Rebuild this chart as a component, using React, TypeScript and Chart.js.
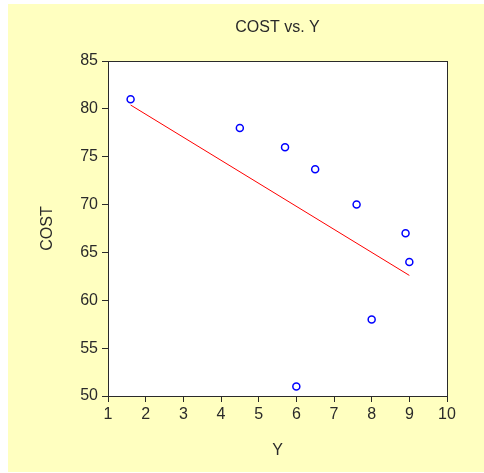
import React, { useEffect, useRef } from "react";
import { Chart, registerables } from "chart.js";

Chart.register(...registerables);

const yValues = [1.6, 4.5, 5.7, 6.5, 7.6, 8.9, 9.0, 8.0, 6.0];
const costValues = [81, 78, 76, 73.7, 70, 67, 64, 58, 51];
const fitX = [1.6, 9.0];
const fitCost = [80.4, 62.6];
const xTicks = [1, 2, 3, 4, 5, 6, 7, 8, 9, 10];
const yTicks = [50, 55, 60, 65, 70, 75, 80, 85];
const chartTitle = "COST vs. Y";

const FONT = "'Liberation Sans', Arial, sans-serif";
const INK = "#2a2a2a";

const frame = {
  id: "frame",
  beforeDatasetsDraw(chart: any) {
    const { ctx, chartArea: a } = chart;
    ctx.save();
    ctx.fillStyle = "#ffffff";
    ctx.fillRect(a.left, a.top, a.right - a.left, a.bottom - a.top);
    ctx.restore();
  },
  afterDraw(chart: any) {
    const { ctx, chartArea: a } = chart;
    ctx.save();
    ctx.strokeStyle = INK;
    ctx.lineWidth = 1;
    ctx.strokeRect(Math.round(a.left) + 0.5, Math.round(a.top) + 0.5, Math.round(a.right - a.left), Math.round(a.bottom - a.top));
    ctx.fillStyle = INK;
    ctx.font = `16px ${FONT}`;
    ctx.textAlign = "center";
    ctx.textBaseline = "middle";
    ctx.fillText(chartTitle, (a.left + a.right) / 2, 24);
    ctx.restore();
  },
};

export default function App() {
  const ref = useRef<HTMLCanvasElement>(null);
  useEffect(() => {
    if (!ref.current) return;
    const chart = new Chart(ref.current, {
      type: "scatter",
      data: {
        datasets: [
          {
            type: "line",
            data: fitX.map((x, i) => ({ x, y: fitCost[i] })),
            borderColor: "#ff0000",
            borderWidth: 1,
            pointRadius: 0,
            fill: false,
          } as any,
          {
            data: yValues.map((x, i) => ({ x, y: costValues[i] })),
            borderColor: "#0000ff",
            backgroundColor: "rgba(0,0,0,0)",
            borderWidth: 1.5,
            pointRadius: 3.5,
          },
        ],
      },
      plugins: [frame],
      options: {
        animation: false,
        responsive: false,
        layout: { padding: { left: 0, right: 37, top: 57, bottom: 0 } },
        plugins: {
          legend: { display: false },
          tooltip: { enabled: false },
          title: { display: false },
        },
        scales: {
          x: {
            type: "linear",
            min: 1,
            max: 10,
            afterBuildTicks: (s: any) => {
              s.ticks = xTicks.map((v) => ({ value: v }));
            },
            afterFit: (s: any) => {
              s.height = 76;
            },
            ticks: { color: INK, font: { family: FONT, size: 16 }, padding: 3, maxRotation: 0 },
            grid: { drawOnChartArea: false, drawTicks: true, tickLength: 6, tickColor: INK },
            border: { display: true, color: INK },
            title: {
              display: true,
              text: "Y",
              color: INK,
              font: { family: FONT, size: 16 },
              padding: { top: 0, bottom: 12 },
            },
          },
          y: {
            type: "linear",
            min: 50,
            max: 85,
            afterBuildTicks: (s: any) => {
              s.ticks = yTicks.map((v) => ({ value: v }));
            },
            afterFit: (s: any) => {
              s.width = 100;
            },
            ticks: { color: INK, font: { family: FONT, size: 16 }, padding: 4 },
            grid: { drawOnChartArea: false, drawTicks: true, tickLength: 6, tickColor: INK },
            border: { display: true, color: INK },
            title: {
              display: true,
              text: "COST",
              color: INK,
              font: { family: FONT, size: 16 },
              padding: { top: 30, bottom: 0 },
            },
          },
        },
      },
    });
    return () => chart.destroy();
  }, []);
  return (
    <div
      style={{
        position: "absolute",
        left: 8,
        top: 4,
        width: 476,
        height: 468,
        background: "#ffffc0",
      }}
    >
      <canvas ref={ref} width={476} height={468} style={{ display: "block" }} />
    </div>
  );
}
